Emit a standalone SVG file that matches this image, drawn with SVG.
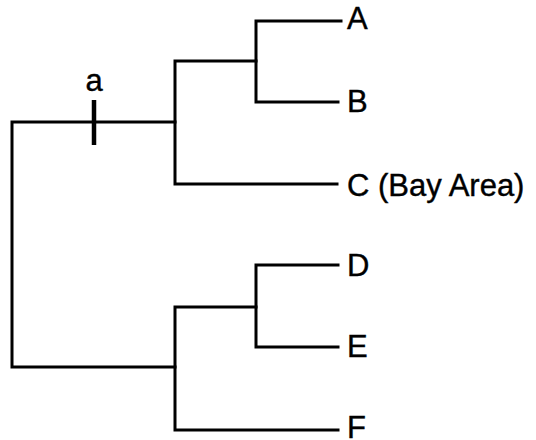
<svg xmlns="http://www.w3.org/2000/svg" width="536" height="440" viewBox="0 0 536 440">
  <style>
    .branch { fill: none; stroke: #000; stroke-width: 3; stroke-linecap: square; stroke-linejoin: miter; }
    .tick { stroke: #000; stroke-width: 4.5; }
    .label { font-family: "Liberation Sans", Arial, sans-serif; font-size: 31px; fill: #000; stroke: #000; stroke-width: 0.4; }
  </style>
  <rect width="536" height="440" fill="#fff"/>
  <!-- tree branches -->
  <g id="connectors">
    <!-- root -->
    <path class="branch" d="M175,122 H12 V367 H175"/>
    <!-- upper clade -->
    <path class="branch" d="M256,61 H175 V184 H337"/>
    <path class="branch" d="M341,21 H256 V102 H338"/>
    <!-- lower clade -->
    <path class="branch" d="M256,307 H175 V430 H338"/>
    <path class="branch" d="M338,265 H256 V347 H338"/>
    <!-- character change mark -->
    <line class="tick" x1="94" y1="100" x2="94" y2="145"/>
  </g>
  <g id="mark-a"><text class="label" x="94" y="91" text-anchor="middle">a</text></g>
  <g id="taxon-A"><text class="label" x="347" y="29">A</text></g>
  <g id="taxon-B"><text class="label" x="347" y="112">B</text></g>
  <g id="taxon-C"><text class="label" x="347" y="196">C (Bay Area)</text></g>
  <g id="taxon-D"><text class="label" x="347" y="276">D</text></g>
  <g id="taxon-E"><text class="label" x="347" y="357">E</text></g>
  <g id="taxon-F"><text class="label" x="347" y="438">F</text></g>
</svg>
